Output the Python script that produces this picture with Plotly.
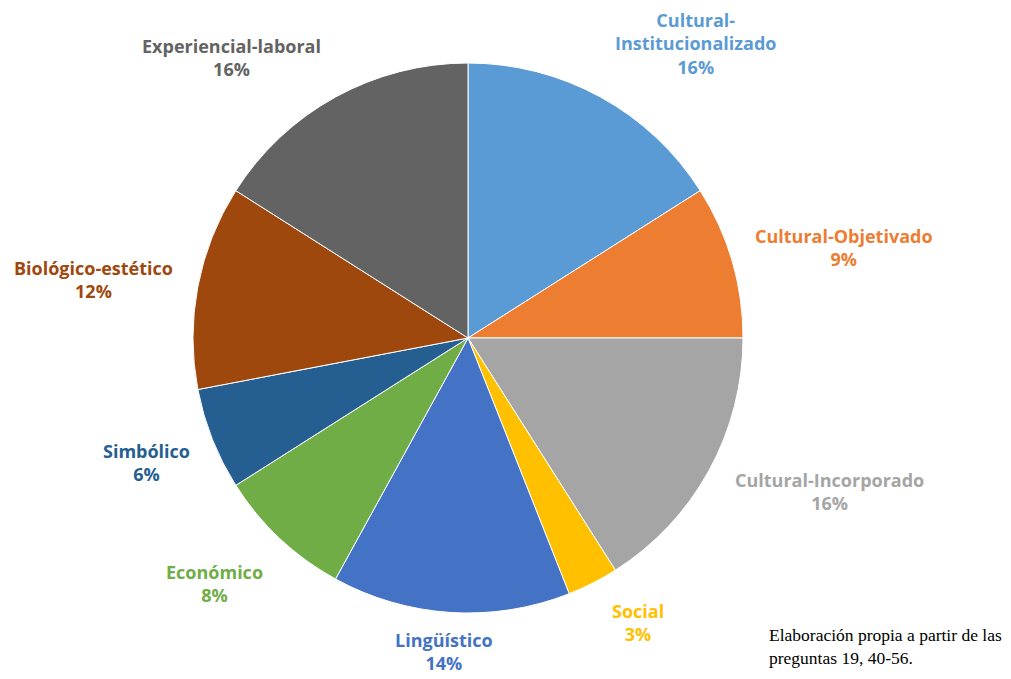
import plotly.graph_objects as go

# Capital types and their share of responses (%)
categories = [
    "Cultural-Institucionalizado",
    "Cultural-Objetivado",
    "Cultural-Incorporado",
    "Social",
    "Lingüístico",
    "Económico",
    "Simbólico",
    "Biológico-estético",
    "Experiencial-laboral",
]
shares = [16, 9, 16, 3, 14, 8, 6, 12, 16]

# Label texts (line breaks as displayed)
label_names = [
    "Cultural-<br>Institucionalizado",
    "Cultural-Objetivado",
    "Cultural-Incorporado",
    "Social",
    "Lingüístico",
    "Económico",
    "Simbólico",
    "Biológico-estético",
    "Experiencial-laboral",
]

colors = ["#5B9BD5", "#ED7D31", "#A5A5A5", "#FFC000", "#4472C4",
          "#70AD47", "#255E91", "#9E480E", "#636363"]

W, H = 1011, 679
CX, CY, R = 468, 338, 275  # pie centre and radius in pixels

# Label centres in pixels (layout only)
label_xy = [(695, 43), (844, 247), (829, 491), (638, 622), (444, 651),
            (214, 583), (146, 462), (93, 279), (231, 57)]

fig = go.Figure()
fig.add_trace(go.Pie(
    labels=categories,
    values=shares,
    sort=False,
    direction="clockwise",
    rotation=0,
    marker=dict(colors=colors, line=dict(color="white", width=1)),
    textinfo="none",
    hoverinfo="label+percent",
    domain=dict(x=[(CX - R) / W, (CX + R) / W],
                y=[(H - CY - R) / H, (H - CY + R) / H]),
    showlegend=False,
))

for name, val, col, (px, py) in zip(label_names, shares, colors, label_xy):
    fig.add_annotation(
        x=px / W, y=1 - py / H, xref="paper", yref="paper",
        text=f"<b>{name}<br>{val}%</b>",
        showarrow=False, xanchor="center", yanchor="middle",
        font=dict(family="Open Sans", size=18, color=col),
        align="center",
    )

fig.add_annotation(
    x=767 / W, y=1 - 646 / H, xref="paper", yref="paper",
    text="Elaboración propia a partir de las<br>preguntas 19, 40-56.",
    showarrow=False, xanchor="left", yanchor="middle", align="left",
    font=dict(family="Liberation Serif", size=17.5, color="black"),
)

fig.update_layout(
    width=W, height=H,
    margin=dict(l=0, r=0, t=0, b=0),
    paper_bgcolor="white",
    plot_bgcolor="white",
)

fig.write_html("out.html")
